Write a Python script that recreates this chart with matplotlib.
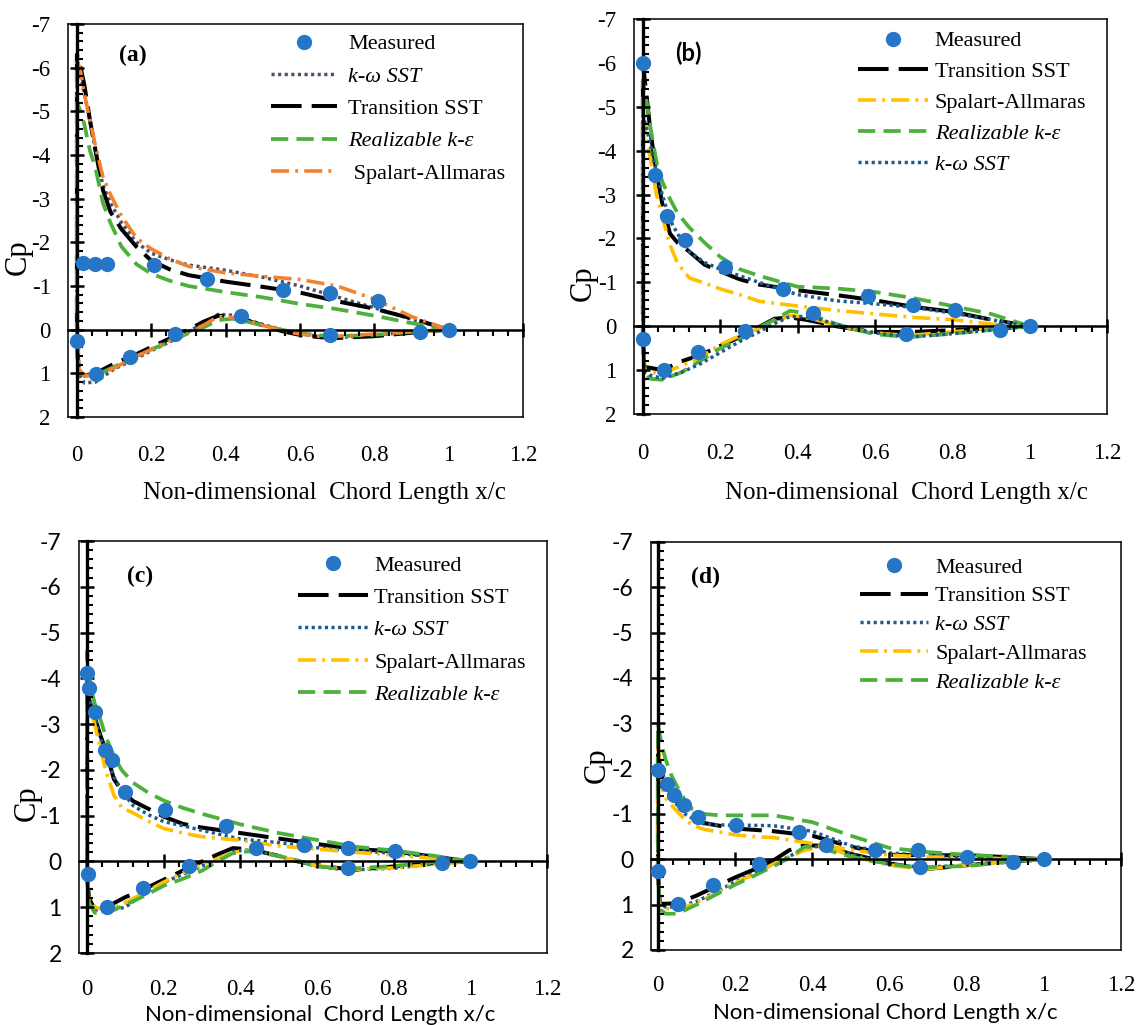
import matplotlib.pyplot as plt
from matplotlib.ticker import MultipleLocator, FuncFormatter

# chord stations: upper surface from trailing edge to leading edge, lower from LE to TE
XU = [1.0, 0.9, 0.8, 0.7, 0.6, 0.5, 0.4, 0.3, 0.25, 0.2, 0.16, 0.12, 0.09, 0.07, 0.05, 0.035, 0.02, 0.01, 0.0]
XL = [0.0, 0.005, 0.02, 0.05, 0.1, 0.15, 0.2, 0.25, 0.3, 0.34, 0.38, 0.42, 0.46, 0.5, 0.55, 0.6, 0.65, 0.7, 0.8, 0.9, 1.0]

# ---- panel (a)
A_MEAS_X = [0.017, 0.049, 0.081, 0.207, 0.35, 0.554, 0.68, 0.81, 1.0, 0.923, 0.68, 0.442, 0.263, 0.143, 0.05, 0.0]
A_MEAS_CP = [-1.52, -1.5, -1.5, -1.49, -1.16, -0.9, -0.84, -0.65, 0.0, 0.05, 0.13, -0.32, 0.1, 0.63, 1.01, 0.27]
A_KW_U = [0, -0.24, -0.5, -0.75, -1.0, -1.2, -1.36, -1.48, -1.6, -1.75, -2.0, -2.45, -2.9, -3.3, -4.1, -4.8, -5.4, -5.8, -6.2]
A_KW_L = [0.5, 1.0, 1.22, 1.2, 0.9, 0.7, 0.48, 0.28, 0.05, -0.15, -0.35, -0.33, -0.22, -0.12, 0.0, 0.1, 0.15, 0.18, 0.13, 0.05, 0]
A_TS_U = [0, -0.26, -0.48, -0.65, -0.85, -0.98, -1.1, -1.25, -1.38, -1.58, -1.9, -2.3, -2.7, -3.2, -4.1, -4.8, -5.6, -6.0, -6.3]
A_TS_L = [0.3, 0.9, 1.05, 1.0, 0.78, 0.6, 0.4, 0.2, 0.0, -0.18, -0.32, -0.3, -0.2, -0.1, 0.03, 0.12, 0.17, 0.19, 0.15, 0.07, 0]
A_RE_U = [0, -0.15, -0.32, -0.47, -0.59, -0.74, -0.86, -1.0, -1.12, -1.28, -1.5, -1.9, -2.45, -2.9, -3.7, -4.1, -4.7, -5.0, -5.2]
A_RE_L = [0.5, 0.95, 1.05, 1.05, 0.85, 0.65, 0.45, 0.28, 0.08, -0.05, -0.22, -0.25, -0.18, -0.1, 0.0, 0.08, 0.13, 0.15, 0.12, 0.05, 0]
A_SA_U = [0, -0.3, -0.7, -1.0, -1.15, -1.22, -1.3, -1.45, -1.62, -1.85, -2.1, -2.6, -3.1, -3.5, -4.2, -4.8, -5.4, -5.9, -6.2]
A_SA_L = [-0.9, 0.9, 1.05, 1.05, 0.88, 0.65, 0.45, 0.25, 0.05, -0.1, -0.3, -0.28, -0.2, -0.1, 0.02, 0.1, 0.15, 0.15, 0.1, 0.05, 0]

# ---- panel (b)
B_MEAS_X = [0.0, 0.032, 0.063, 0.11, 0.211, 0.363, 0.583, 0.698, 0.806, 1.0, 0.923, 0.68, 0.441, 0.265, 0.142, 0.054, 0.0]
B_MEAS_CP = [-6.0, -3.44, -2.51, -1.96, -1.35, -0.84, -0.68, -0.48, -0.38, 0.0, 0.08, 0.17, -0.31, 0.11, 0.59, 1.0, 0.3]
B_TS_U = [0, -0.15, -0.33, -0.44, -0.59, -0.71, -0.82, -0.95, -1.07, -1.25, -1.4, -1.7, -1.9, -2.11, -2.8, -3.5, -4.4, -5.2, -6.0]
B_TS_L = [0.3, 0.93, 0.95, 1.0, 0.8, 0.65, 0.45, 0.25, 0.02, -0.17, -0.2, -0.15, -0.08, 0.0, 0.07, 0.13, 0.13, 0.13, 0.09, 0.05, 0]
B_SA_U = [0, -0.05, -0.15, -0.2, -0.28, -0.36, -0.46, -0.57, -0.72, -0.85, -0.98, -1.1, -1.43, -1.85, -2.5, -3.0, -3.8, -4.2, -4.9]
B_SA_L = [0.3, 1.0, 1.05, 1.08, 0.9, 0.7, 0.42, 0.22, 0.05, -0.1, -0.25, -0.2, -0.12, -0.02, 0.07, 0.15, 0.19, 0.2, 0.13, 0.05, 0]
B_RE_U = [0, -0.28, -0.46, -0.64, -0.78, -0.86, -0.9, -1.15, -1.3, -1.58, -1.9, -2.25, -2.57, -2.9, -3.3, -3.75, -4.5, -5.1, -5.6]
B_RE_L = [0.3, 1.1, 1.2, 1.22, 1.05, 0.78, 0.5, 0.3, 0.03, -0.15, -0.35, -0.3, -0.18, -0.05, 0.08, 0.18, 0.22, 0.24, 0.17, 0.08, 0]
B_KW_U = [0, -0.15, -0.3, -0.43, -0.51, -0.58, -0.72, -1.0, -1.15, -1.3, -1.45, -1.7, -2.1, -2.42, -3.0, -3.5, -4.1, -4.5, -4.8]
B_KW_L = [0.5, 1.05, 1.12, 1.19, 1.05, 0.85, 0.6, 0.35, 0.13, -0.06, -0.22, -0.22, -0.15, -0.04, 0.06, 0.15, 0.21, 0.24, 0.17, 0.09, 0]

# ---- panel (c)
C_MEAS_X = [0.0, 0.004, 0.021, 0.047, 0.065, 0.098, 0.204, 0.362, 0.565, 0.682, 0.804, 1.0, 0.925, 0.682, 0.442, 0.266, 0.145, 0.051, 0.003]
C_MEAS_CP = [-4.11, -3.79, -3.27, -2.44, -2.21, -1.51, -1.13, -0.77, -0.36, -0.29, -0.23, 0.0, 0.04, 0.15, -0.29, 0.11, 0.58, 1.0, 0.27]
C_TS_U = [0, -0.11, -0.22, -0.27, -0.38, -0.5, -0.62, -0.74, -0.82, -0.98, -1.15, -1.32, -1.55, -1.8, -2.4, -2.75, -3.15, -3.4, -3.7]
C_TS_L = [0.3, 0.8, 1.05, 1.0, 0.78, 0.6, 0.4, 0.2, 0.0, -0.15, -0.29, -0.27, -0.2, -0.12, 0.0, 0.08, 0.14, 0.18, 0.11, 0.04, 0]
C_KW_U = [0, -0.11, -0.18, -0.23, -0.3, -0.41, -0.49, -0.68, -0.78, -0.87, -1.02, -1.22, -1.55, -1.85, -2.3, -2.7, -3.15, -3.45, -3.6]
C_KW_L = [0.4, 0.95, 1.05, 1.09, 1.0, 0.69, 0.46, 0.28, 0.1, -0.06, -0.22, -0.25, -0.2, -0.12, 0.0, 0.11, 0.16, 0.18, 0.15, 0.06, 0]
C_SA_U = [0, -0.07, -0.14, -0.2, -0.27, -0.34, -0.46, -0.54, -0.62, -0.72, -0.88, -1.06, -1.18, -1.45, -1.95, -2.45, -3.0, -3.3, -3.4]
C_SA_L = [0.3, 0.75, 1.0, 1.06, 0.9, 0.68, 0.45, 0.25, 0.07, -0.06, -0.2, -0.24, -0.2, -0.12, 0.0, 0.09, 0.14, 0.17, 0.14, 0.07, 0]
C_RE_U = [0, -0.13, -0.24, -0.32, -0.47, -0.62, -0.81, -1.04, -1.17, -1.33, -1.5, -1.72, -2.0, -2.3, -2.7, -3.1, -3.45, -3.8, -4.6]
C_RE_L = [0.3, 0.9, 1.12, 1.13, 0.95, 0.75, 0.53, 0.38, 0.2, 0.0, -0.18, -0.22, -0.18, -0.12, -0.02, 0.11, 0.14, 0.15, 0.1, 0.02, 0]

# ---- panel (d)
D_MEAS_X = [0.0, 0.024, 0.041, 0.067, 0.105, 0.202, 0.366, 0.562, 0.675, 0.8, 1.0, 0.92, 0.68, 0.435, 0.263, 0.143, 0.051, 0.0]
D_MEAS_CP = [-1.98, -1.67, -1.43, -1.19, -0.93, -0.75, -0.6, -0.2, -0.2, -0.05, 0.0, 0.06, 0.17, -0.31, 0.1, 0.57, 0.98, 0.26]
D_TS_U = [0, -0.05, -0.09, -0.09, -0.1, -0.28, -0.52, -0.62, -0.65, -0.68, -0.74, -0.8, -0.9, -1.02, -1.25, -1.45, -1.7, -1.9, -2.3]
D_TS_L = [0.3, 0.98, 0.98, 0.97, 0.8, 0.6, 0.4, 0.22, 0.02, -0.2, -0.31, -0.3, -0.22, -0.12, -0.02, 0.09, 0.16, 0.21, 0.13, 0.06, 0]
D_KW_U = [0, -0.01, -0.05, -0.09, -0.14, -0.3, -0.62, -0.74, -0.75, -0.75, -0.76, -0.78, -0.9, -1.0, -1.2, -1.35, -1.6, -1.8, -2.1]
D_KW_L = [0.4, 1.0, 1.05, 1.05, 0.93, 0.72, 0.5, 0.3, 0.1, -0.06, -0.25, -0.29, -0.22, -0.12, 0.0, 0.11, 0.15, 0.17, 0.13, 0.06, 0]
D_SA_U = [0, -0.01, -0.05, -0.05, -0.09, -0.21, -0.35, -0.48, -0.5, -0.54, -0.6, -0.66, -0.75, -0.88, -1.05, -1.2, -1.35, -1.6, -2.6]
D_SA_L = [0.4, 1.05, 1.08, 1.13, 0.95, 0.75, 0.52, 0.33, 0.1, -0.06, -0.2, -0.26, -0.2, -0.08, 0.03, 0.13, 0.18, 0.21, 0.13, 0.06, 0]
D_RE_U = [0, -0.06, -0.1, -0.16, -0.25, -0.52, -0.82, -0.97, -0.97, -0.97, -0.97, -1.0, -1.1, -1.3, -1.6, -1.85, -2.2, -2.5, -3.0]
D_RE_L = [0.3, 1.1, 1.2, 1.2, 1.0, 0.78, 0.56, 0.36, 0.15, -0.03, -0.28, -0.26, -0.15, -0.06, 0.03, 0.1, 0.16, 0.17, 0.15, 0.06, 0]

SERIF = 'Liberation Serif'
SANS = 'Lato'
BLUE = '#2676C8'
GREEN = '#4DAF3C'
ORANGE = '#F28230'
GOLD = '#FFC000'

W, H = 1137, 1025
fig = plt.figure(figsize=(W / 100, H / 100), dpi=100)

STYLES = {
    'ts': dict(color='black', lw=2.9, dashes=(7.6, 2.5)),
    're': dict(color=GREEN, lw=2.7, dashes=(4.6, 2.2)),
    'sa': dict(lw=2.6, dashes=(5.0, 1.7, 0.8, 1.7)),
    'kw': dict(lw=2.5, dashes=(0.9, 1.0)),
}
LABELS = {'ts': 'Transition SST', 're': 'Realizable k-\u03b5',
          'sa': 'Spalart-Allmaras', 'kw': 'k-\u03c9 SST'}


def fmt(v, pos):
    return f'{v:g}'


def panel(box, xmin, tag, tagfont, meas, curves, sa_color, kw_color, ytickfont,
          xlabel, xlabfont, xlabsize, leg_at, leg_len, leg_pad, leg_space,
          tag_at, cp_at, xl_at, xpad, sa_label=None):
    l, t, r, b = box
    ax = fig.add_axes([l / W, 1 - b / H, (r - l) / W, (b - t) / H])
    ax.set_xlim(xmin, 1.2)
    ax.set_ylim(2, -7)

    ax.plot(meas[0], meas[1], 'o', color=BLUE, ms=11, mec='none', label='Measured', zorder=4)
    for key, up, lo in curves:
        st = dict(STYLES[key])
        if key == 'sa':
            st['color'] = sa_color
        if key == 'kw':
            st['color'] = kw_color
        lab = sa_label if (key == 'sa' and sa_label) else LABELS[key]
        ax.plot(XU + XL, up + lo, label=lab, zorder=2, **st)

    ax.xaxis.set_major_locator(MultipleLocator(0.2))
    ax.yaxis.set_major_locator(MultipleLocator(1))
    ax.xaxis.set_major_formatter(FuncFormatter(fmt))
    ax.yaxis.set_major_formatter(FuncFormatter(fmt))
    ax.tick_params(length=0)
    ax.tick_params(axis='x', pad=xpad, labelsize=16.5)
    ax.tick_params(axis='y', pad=12.5, labelsize=16.5)
    for lb in ax.get_xticklabels():
        lb.set_fontfamily(SERIF)
    for lb in ax.get_yticklabels():
        lb.set_fontfamily(ytickfont)
    for sp in ax.spines.values():
        sp.set_linewidth(1.1)

    # axis lines through x=0 and Cp=0
    sx = ax.secondary_xaxis(2 / 9)
    sx.set_zorder(3)
    sx.xaxis.set_major_locator(MultipleLocator(0.2))
    sx.xaxis.set_minor_locator(MultipleLocator(0.04))
    sx.tick_params(labelbottom=False)
    sx.tick_params(which='major', direction='inout', length=10, width=1.8)
    sx.tick_params(which='minor', direction='out', length=4, width=1.5)
    sx.spines['bottom'].set_linewidth(1.8)

    sy = ax.secondary_yaxis(-xmin / (1.2 - xmin))
    sy.set_zorder(3)
    sy.yaxis.set_major_locator(MultipleLocator(1))
    sy.yaxis.set_minor_locator(MultipleLocator(0.2))
    sy.tick_params(labelleft=False)
    sy.tick_params(which='major', direction='inout', length=10, width=1.8)
    sy.tick_params(which='minor', direction='in', length=4, width=1.5)
    sy.spines['left'].set_linewidth(2.4)

    leg = ax.legend(loc='upper left', bbox_to_anchor=leg_at, frameon=False,
                    prop={'family': SERIF, 'size': 16}, borderpad=0, borderaxespad=0,
                    handlelength=leg_len, handletextpad=leg_pad, labelspacing=leg_space)
    for tx in leg.get_texts():
        if 'k-' in tx.get_text():
            tx.set_style('italic')

    ax.text(tag_at[0], tag_at[1], tag, transform=ax.transAxes, ha='center', va='center',
            fontsize=17, fontweight='bold', family=tagfont)
    ax.set_ylabel('Cp', family=SERIF, fontsize=22)
    ax.yaxis.set_label_coords(*cp_at)
    ax.yaxis.label.set_va('center')
    ax.set_xlabel(xlabel, family=xlabfont, fontsize=xlabsize)
    ax.xaxis.set_label_coords(*xl_at)
    ax.xaxis.label.set_va('center')
    return ax


panel((68, 24, 523, 417), -0.024, '(a)', SERIF, (A_MEAS_X, A_MEAS_CP),
      [('kw', A_KW_U, A_KW_L), ('ts', A_TS_U, A_TS_L), ('re', A_RE_U, A_RE_L), ('sa', A_SA_U, A_SA_L)],
      ORANGE, '#44546A', SERIF, 'Non-dimensional  Chord Length x/c', SERIF, 18,
      (0.446, 0.975), 2.97, 0.5, 0.53, (0.143, 0.921), (-0.11, 0.407), (0.563, -0.193), 20,
      sa_label=' Spalart-Allmaras')

panel((634, 19, 1107, 414), -0.023, '(b)', SANS, (B_MEAS_X, B_MEAS_CP),
      [('ts', B_TS_U, B_TS_L), ('sa', B_SA_U, B_SA_L), ('re', B_RE_U, B_RE_L), ('kw', B_KW_U, B_KW_L)],
      GOLD, '#1F5A8C', SERIF, 'Non-dimensional  Chord Length x/c', SERIF, 18,
      (0.474, 0.97), 3.15, 0.3, 0.46, (0.114, 0.914), (-0.108, 0.332), (0.577, -0.2), 21)

panel((79, 541, 547, 953), -0.021, '(c)', SERIF, (C_MEAS_X, C_MEAS_CP),
      [('ts', C_TS_U, C_TS_L), ('kw', C_KW_U, C_KW_L), ('sa', C_SA_U, C_SA_L), ('re', C_RE_U, C_RE_L)],
      GOLD, '#1F5A8C', SANS, 'Non-dimensional  Chord Length x/c', SANS, 16,
      (0.468, 0.966), 3.15, 0.28, 0.53, (0.130, 0.913), (-0.11, 0.364), (0.515, -0.150), 19)

panel((651, 542, 1121, 950), -0.018, '(d)', SERIF, (D_MEAS_X, D_MEAS_CP),
      [('ts', D_TS_U, D_TS_L), ('kw', D_KW_U, D_KW_L), ('sa', D_SA_U, D_SA_L), ('re', D_RE_U, D_RE_L)],
      GOLD, '#1F5A8C', SANS, 'Non-dimensional Chord Length x/c', SANS, 16,
      (0.445, 0.963), 3.05, 0.32, 0.37, (0.115, 0.914), (-0.115, 0.453), (0.498, -0.154), 18)

fig.savefig('out.png', dpi=100)
